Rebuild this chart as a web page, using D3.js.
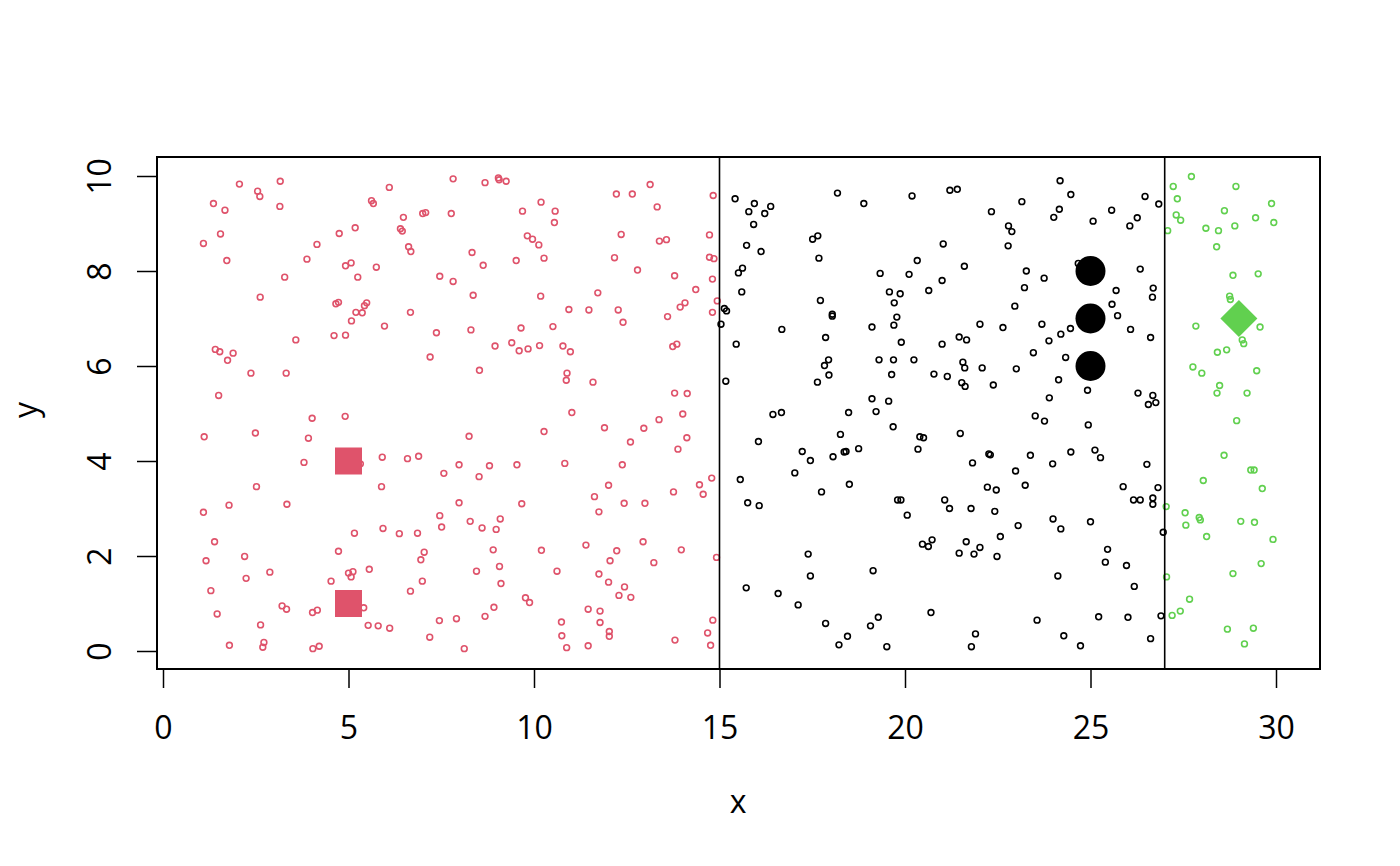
<!DOCTYPE html>
<html>
<head>
<meta charset="utf-8">
<script src="https://cdn.jsdelivr.net/npm/d3@7"></script>
<style>
 body { margin: 0; background: #fff; }
 svg text { font-family: "Open Sans", sans-serif; fill: #000; }
</style>
</head>
<body>
<svg></svg>
<script>
// данные: три группы точек (x < 15, 15..27, > 27)
const redPts = [
 [2.06,9.83],[2.55,9.68],[2.61,9.57],[3.16,9.89],[1.36,9.42],[1.67,9.28],[3.15,9.36],[6.10,9.76],[5.62,9.48],[5.67,9.42],
 [7.82,9.94],[6.48,9.13],[7.00,9.21],[7.08,9.23],[7.77,9.21],[1.55,8.78],[1.09,8.58],[4.75,8.79],[5.18,8.91],[6.40,8.89],
 [6.45,8.84],[4.15,8.56],[1.72,8.22],[3.88,8.25],[4.92,8.11],[5.07,8.17],[5.75,8.08],[6.62,8.51],[6.68,8.41],[3.28,7.87],
 [5.25,7.87],[7.46,7.89],[7.82,7.78],[2.62,7.45],[4.66,7.31],[4.73,7.34],[5.20,7.13],[5.37,7.12],[5.43,7.27],[5.49,7.33],
 [6.67,7.13],[5.08,6.95],[5.97,6.84],[4.61,6.64],[4.92,6.65],[7.37,6.70],[3.58,6.55],[1.41,6.35],[1.53,6.30],[1.89,6.27],
 [1.74,6.12],[7.20,6.19],[2.37,5.85],[3.32,5.85],[1.50,5.38],
 [4.02,4.90],[4.91,4.94],[1.11,4.51],[2.49,4.59],[3.92,4.48],[3.80,3.97],[5.32,3.94],[5.91,4.08],[6.59,4.05],[6.89,4.10],
 [7.57,3.74],[2.52,3.46],[5.89,3.46],[1.78,3.07],[3.34,3.09],[1.09,2.92],[7.46,2.85],[7.51,2.61],[5.16,2.48],[5.93,2.58],
 [6.37,2.47],[6.86,2.48],[1.39,2.30],[4.73,2.10],[7.04,2.08],[6.95,1.92],[1.16,1.90],[2.20,1.99],[2.88,1.66],[2.24,1.53],
 [5.00,1.64],[5.12,1.67],[5.07,1.56],[5.56,1.72],[4.53,1.47],[6.99,1.47],[6.67,1.26],[1.29,1.27],[5.41,0.91],[3.21,0.95],
 [3.33,0.88],[4.03,0.81],[4.16,0.86],[1.46,0.78],[2.63,0.55],[5.53,0.54],[5.80,0.53],[6.11,0.48],[7.45,0.64],[7.19,0.29],
 [1.79,0.12],[2.72,0.18],[2.69,0.08],[4.04,0.05],[4.21,0.10],
 [8.68,9.86],[9.04,9.96],[9.06,9.92],[9.25,9.89],[10.19,9.45],[9.69,9.26],[10.57,9.26],[10.55,9.02],[9.82,8.74],[9.96,8.67],
 [10.13,8.55],[8.33,8.39],[8.63,8.12],[9.52,8.22],[10.27,8.27],[8.36,7.49],[10.18,7.47],[12.22,9.62],[12.65,9.62],[13.13,9.82],
 [13.32,9.35],[14.83,9.59],[12.35,8.77],[13.38,8.63],[13.57,8.66],[14.73,8.76],[12.17,8.28],[12.79,8.02],[14.73,8.29],[14.85,8.26],
 [13.79,7.90],[14.81,7.83],[14.36,7.61],[11.72,7.54],[10.94,7.19],[11.48,7.18],[12.27,7.18],[12.40,6.92],[13.94,7.24],[14.07,7.33],
 [13.60,7.04],[14.94,7.37],[14.81,7.13],[9.65,6.80],[10.51,6.83],[8.30,6.76],[8.95,6.42],[9.40,6.49],[9.60,6.32],[9.84,6.36],
 [10.15,6.43],[10.78,6.42],[10.98,6.30],[13.74,6.41],[13.85,6.46],[8.53,5.91],[10.89,5.85],[10.87,5.70],[11.59,5.66],[13.79,5.43],
 [14.13,5.42],
 [11.02,5.02],[14.01,4.99],[13.37,4.87],[8.25,4.52],[10.27,4.62],[11.90,4.70],[12.96,4.69],[12.60,4.40],[14.12,4.49],[13.88,4.25],
 [7.98,3.92],[8.80,3.90],[8.52,3.67],[9.54,3.92],[10.83,3.95],[12.38,3.92],[12.01,3.49],[14.79,3.64],[14.46,3.50],[14.56,3.30],
 [13.76,3.35],[7.98,3.12],[9.67,3.10],[11.63,3.25],[11.75,2.93],[12.43,3.11],[12.99,3.11],[8.28,2.73],[8.60,2.59],[8.98,2.56],
 [9.09,2.78],[8.90,2.13],[10.20,2.12],[11.40,2.23],[12.23,2.11],[12.05,1.90],[12.94,2.30],[13.97,2.13],[13.23,1.86],[14.92,1.97],
 [8.45,1.68],[9.07,1.78],[9.11,1.42],[10.62,1.68],[11.75,1.62],[12.01,1.45],[12.44,1.35],[12.29,1.17],[12.61,1.13],[9.77,1.12],
 [9.88,1.02],[8.92,0.92],[8.68,0.73],[7.91,0.68],[11.46,0.88],[11.78,0.84],[11.78,0.60],[10.74,0.61],[10.75,0.32],[12.03,0.41],
 [12.03,0.31],[10.88,0.07],[11.46,0.11],[8.12,0.05],[13.80,0.23],[14.82,0.65],[14.68,0.38],[14.76,0.12]
];
const blackPts = [
 [15.42,9.52],[15.94,9.42],[15.79,9.25],[16.22,9.21],[16.38,9.36],[15.92,8.98],[18.18,9.64],[18.89,9.42],[20.19,9.58],[21.21,9.70],
 [21.41,9.72],[22.33,9.25],[22.79,8.95],[22.88,8.83],[22.78,8.53],[15.73,8.54],[16.12,8.41],[17.51,8.67],[17.65,8.74],[17.68,8.27],
 [21.03,8.57],[20.33,8.22],[21.60,8.10],[15.62,8.06],[15.51,7.96],[19.33,7.95],[20.11,7.93],[21.00,7.80],[15.60,7.56],[19.58,7.56],
 [19.87,7.52],[20.64,7.59],[19.71,7.33],[17.72,7.38],[15.13,7.21],[15.19,7.16],[15.04,6.88],[18.04,7.09],[18.04,7.05],[19.78,7.03],
 [19.70,6.86],[19.11,6.82],[16.68,6.77],[22.02,6.88],[22.64,6.81],[15.45,6.46],[17.86,6.60],[19.90,6.50],[21.00,6.46],[21.46,6.61],
 [21.66,6.55],[17.94,6.13],[17.83,6.01],[17.95,5.81],[19.30,6.13],[19.69,6.13],[20.24,6.13],[19.64,5.82],[20.78,5.83],[21.14,5.78],
 [21.56,6.08],[21.61,5.96],[22.08,5.96],[21.53,5.65],[21.62,5.57],[22.38,5.60],[15.17,5.68],[17.64,5.66],[19.11,5.31],[19.56,5.26],
 [16.44,4.98],[16.67,5.02],[18.48,5.02],[19.22,5.04],[19.68,4.72],[16.05,4.41],[18.26,4.56],[17.23,4.20],[17.45,4.01],[18.06,4.09],
 [18.36,4.19],[18.41,4.20],[18.75,4.26],[20.40,4.51],[20.50,4.49],[20.35,4.25],[21.49,4.58],[22.26,4.15],[22.30,4.13],[21.82,3.96],
 [15.56,3.61],[17.03,3.75],[17.75,3.35],[18.50,3.51],[15.76,3.12],[16.07,3.06],[19.80,3.18],[19.89,3.18],[20.06,2.86],[21.07,3.18],
 [21.20,3.00],[21.78,3.00],[22.22,3.45],[22.46,3.39],[22.42,2.94],[22.57,2.41],[20.47,2.25],[20.63,2.20],[20.73,2.34],[21.65,2.30],
 [22.02,2.18],[21.46,2.06],[21.86,2.04],[22.48,1.99],[17.39,2.04],[17.45,1.58],[19.14,1.69],[15.72,1.33],[16.58,1.21],[17.12,0.97],
 [20.70,0.81],[17.86,0.58],[19.07,0.53],[19.28,0.71],[18.45,0.31],[18.22,0.13],[19.51,0.09],[21.90,0.36],[21.79,0.09],
 [24.18,9.90],[24.47,9.61],[23.15,9.46],[24.16,9.30],[24.01,9.13],[25.07,9.05],[25.57,9.28],[26.47,9.57],[26.84,9.41],[26.26,9.12],
 [26.06,8.95],[24.67,8.16],[23.27,8.00],[23.75,7.85],[23.22,7.65],[26.34,8.04],[25.69,7.59],[26.69,7.64],[26.67,7.45],[22.96,7.26],
 [25.58,7.30],[25.73,7.06],[23.69,6.88],[24.46,6.79],[24.20,6.67],[23.88,6.53],[26.08,6.77],[26.62,6.60],[23.46,6.28],[24.33,6.18],
 [23.00,5.94],[24.14,5.71],[24.92,5.49],[23.89,5.33],[26.28,5.43],[26.68,5.38],[26.76,5.23],[26.56,5.19],
 [23.51,4.95],[23.76,4.84],[24.94,4.76],[23.38,4.12],[23.98,3.94],[24.47,4.19],[25.12,4.23],[25.27,4.07],[26.52,3.93],[22.98,3.79],
 [23.24,3.49],[25.88,3.46],[26.82,3.44],[26.16,3.18],[26.34,3.18],[26.68,3.22],[26.68,3.09],[23.05,2.64],[23.99,2.78],[24.20,2.57],
 [25.00,2.72],[26.96,2.50],[25.46,2.14],[25.40,1.87],[25.97,1.80],[24.12,1.58],[26.18,1.36],[23.56,0.65],[25.22,0.72],[26.01,0.71],
 [26.90,0.74],[24.28,0.32],[24.73,0.11],[26.62,0.26]
];
const greenPts = [
 [27.72,9.99],[27.23,9.78],[27.34,9.52],[28.92,9.78],[27.31,9.18],[27.43,9.07],[27.08,8.85],[28.11,8.90],[28.45,8.85],[28.61,9.27],
 [28.89,8.95],[29.45,9.12],[29.88,9.42],[29.94,9.02],[28.40,8.51],[28.84,7.91],[29.52,7.94],[28.75,7.47],[28.77,7.40],[27.84,6.84],
 [29.57,6.82],[29.09,6.55],[29.13,6.47],[28.42,6.29],[28.67,6.34],[27.76,5.98],[28.00,5.85],[29.48,5.90],[28.48,5.59],[28.41,5.43],
 [29.22,5.43],
 [28.94,4.85],[28.60,4.12],[29.32,3.81],[29.41,3.81],[28.04,3.59],[29.63,3.42],[27.04,3.04],[27.55,2.91],[27.93,2.81],[27.96,2.76],
 [27.57,2.65],[28.13,2.41],[29.05,2.73],[29.42,2.71],[29.92,2.35],[29.60,1.84],[28.84,1.63],[27.05,1.56],[27.67,1.09],[27.42,0.84],
 [27.20,0.75],[28.69,0.46],[29.39,0.48],[29.15,0.15]
];
// крупные точки
const redSquares = [[5, 4], [5, 1]];
const blackDots = [[25, 8], [25, 7], [25, 6]];
const greenDiamond = [[29, 7]];
// вертикальные границы
const splitX = [15, 27];
// подписи осей
const xTicks = [0, 5, 10, 15, 20, 25, 30];
const yTicks = [0, 2, 4, 6, 8, 10];

const width = 1400;
const height = 866;
const red = "#DF536B";
const green = "#61D04F";

let svg = d3.select("svg")
 .attr("width", width)
 .attr("height", height);

const x = d3.scaleLinear().domain([0, 30]).range([163, 1276]);
const y = d3.scaleLinear().domain([0, 10]).range([651, 176]);

// рамка области построения
const box = {left: 157, right: 1320, top: 157, bottom: 669};

// точки
function drawPts(data, color) {
 svg.append("g")
 .selectAll("circle")
 .data(data)
 .join("circle")
 .attr("cx", d => x(d[0]))
 .attr("cy", d => y(d[1]))
 .attr("r", 2.9)
 .style("fill", "none")
 .style("stroke", color)
 .style("stroke-width", 1.6);
}
drawPts(redPts, red);
drawPts(blackPts, "#000");
drawPts(greenPts, green);

// вертикальные линии
svg.append("g")
 .selectAll("line")
 .data(splitX)
 .join("line")
 .attr("x1", d => x(d)).attr("x2", d => x(d))
 .attr("y1", box.top).attr("y2", box.bottom)
 .style("stroke", "#000")
 .style("stroke-width", 1.6);

// крупные маркеры
svg.append("g")
 .selectAll("rect")
 .data(redSquares)
 .join("rect")
 .attr("x", d => x(d[0]) - 13.5)
 .attr("y", d => y(d[1]) - 13.5)
 .attr("width", 27).attr("height", 27)
 .style("fill", red);

svg.append("g")
 .selectAll("circle")
 .data(blackDots)
 .join("circle")
 .attr("cx", d => x(d[0]))
 .attr("cy", d => y(d[1]))
 .attr("r", 15)
 .style("fill", "#000");

svg.append("g")
 .selectAll("path")
 .data(greenDiamond)
 .join("path")
 .attr("d", d => {
 const cx = x(d[0]), cy = y(d[1]), s = 18.5;
 return `M${cx},${cy - s}L${cx + s},${cy}L${cx},${cy + s}L${cx - s},${cy}Z`;
 })
 .style("fill", green);

// рамка
svg.append("rect")
 .attr("x", box.left).attr("y", box.top)
 .attr("width", box.right - box.left).attr("height", box.bottom - box.top)
 .style("fill", "none")
 .style("stroke", "#000")
 .style("stroke-width", 2);

// ось x
let gx = svg.append("g")
 .attr("transform", `translate(0, ${box.bottom})`)
 .call(d3.axisBottom(x).tickValues(xTicks).tickSize(19).tickPadding(28));
gx.select(".domain").remove();
gx.selectAll(".tick line").style("stroke-width", 1.5);
gx.selectAll(".tick text")
 .style("font-size", "32px")
 .style("font-family", "'Open Sans', sans-serif");

// ось y
let gy = svg.append("g")
 .attr("transform", `translate(${box.left}, 0)`)
 .call(d3.axisLeft(y).tickValues(yTicks).tickSize(20));
gy.select(".domain").remove();
gy.selectAll(".tick line").style("stroke-width", 1.5);
gy.selectAll(".tick text")
 .attr("x", 0)
 .attr("y", -46.5)
 .attr("dy", 0)
 .attr("text-anchor", "middle")
 .attr("transform", "rotate(-90)")
 .style("font-size", "32px")
 .style("font-family", "'Open Sans', sans-serif");

// названия осей
svg.append("text")
 .attr("x", 738).attr("y", 813)
 .attr("text-anchor", "middle")
 .style("font-size", "32px")
 .text("x");

svg.append("text")
 .attr("transform", "translate(37, 410) rotate(-90)")
 .attr("text-anchor", "middle")
 .style("font-size", "32px")
 .text("y");
</script>
</body>
</html>
